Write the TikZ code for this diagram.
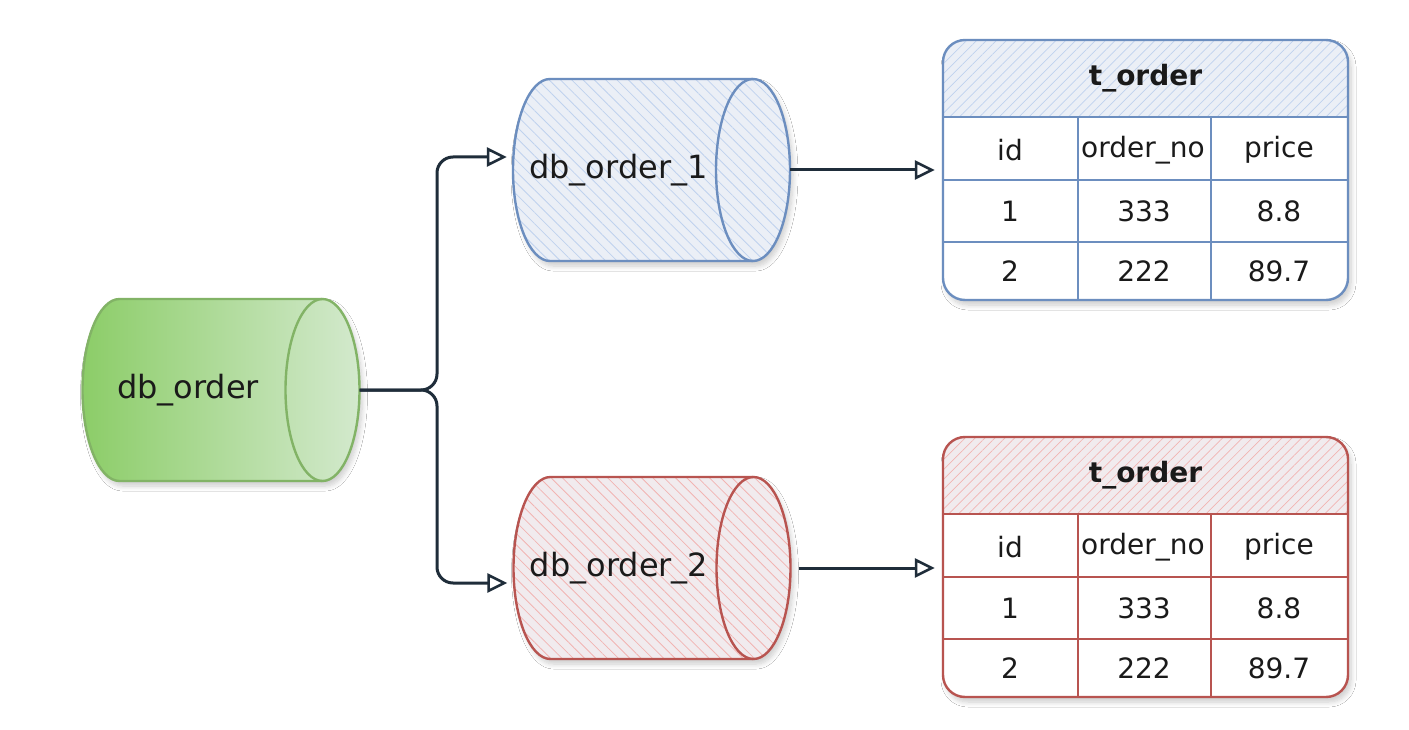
\documentclass[tikz,border=0pt]{standalone}
\usepackage{fontspec}
\setmainfont{DejaVu Sans}
\usetikzlibrary{patterns.meta,arrows.meta,shadows.blur}
\definecolor{bluestroke}{HTML}{6C8EBF}
\definecolor{bluebg}{HTML}{EBEFF6}
\definecolor{bluehatch}{HTML}{BFD2EE}
\definecolor{redstroke}{HTML}{B85450}
\definecolor{redbg}{HTML}{F1EBEE}
\definecolor{redhatch}{HTML}{F2B4B2}
\definecolor{greenstroke}{HTML}{82B366}
\definecolor{greenleft}{HTML}{8CCD68}
\definecolor{greenright}{HTML}{D3E9CD}
\definecolor{conncol}{HTML}{1F2D3A}
\definecolor{txt}{HTML}{1A1A1A}
\tikzset{
  softshadow/.style={blur shadow={shadow xshift=3pt, shadow yshift=-5pt, shadow opacity=20, shadow blur steps=8, shadow blur radius=5pt}},
  cylbox/.style={minimum width=277pt, minimum height=182pt, inner sep=0pt},
  cyltext/.style={text=txt, font=\fontsize{32}{36}\selectfont, inner sep=0pt},
  cylbase/.style={line width=2.4pt, line join=round},
  bluecyl/.style={cylbase, softshadow, draw=bluestroke, preaction={fill=bluebg},
    pattern={Lines[angle=-45,distance=8pt,line width=0.8pt]}, pattern color=bluehatch},
  redcyl/.style={cylbase, softshadow, draw=redstroke, preaction={fill=redbg},
    pattern={Lines[angle=-45,distance=8pt,line width=0.8pt]}, pattern color=redhatch},
  greencyl/.style={cylbase, softshadow, draw=greenstroke, left color=greenleft, right color=greenright},
  conn/.style={draw=conncol, line width=3pt, -{Triangle[open, length=20pt, width=19pt, line width=2.6pt]}},
  tframe/.style={minimum width=405pt, minimum height=260pt, inner sep=0pt},
  cell/.style={text=txt, font=\fontsize{28}{32}\selectfont, inner sep=0pt},
  head/.style={text=txt, font=\bfseries\fontsize{28}{32}\selectfont, inner sep=0pt},
}
% #1 name, #2 cx, #3 cy, #4 style, #5 stroke colour, #6 text
\newcommand{\dbcyl}[6]{%
  \node[cylbox] (#1) at (#2,#3) {};
  \path[#4] (#2-101.5,#3-91) -- (#2+101.5,#3-91)
     arc[start angle=90,end angle=-90,x radius=37pt,y radius=91pt]
     -- (#2-101.5,#3+91)
     arc[start angle=-90,end angle=-270,x radius=37pt,y radius=91pt] -- cycle;
  \draw[#5, line width=2.4pt] (#2+101.5,#3-91) arc[start angle=90,end angle=270,x radius=37pt,y radius=91pt];
  \node[cyltext] (#1-t) at (#2-33,#3) {#6};
}
% #1 name, #2 top y, #3 stroke, #4 bg, #5 hatch
\newcommand{\dbtable}[5]{%
  \node[tframe] (#1) at (1145.5,#2+130) {};
  \fill[white, softshadow, rounded corners=22pt] (943,#2) rectangle (1348,#2+260);
  \begin{scope}
    \clip[rounded corners=22pt] (943,#2) rectangle (1348,#2+260);
    \fill[#4] (943,#2) rectangle (1348,#2+77);
    \fill[pattern={Lines[angle=45,distance=7pt,line width=0.7pt]}, pattern color=#5] (943,#2) rectangle (1348,#2+77);
  \end{scope}
  \draw[#3, line width=2.4pt, rounded corners=22pt] (943,#2) rectangle (1348,#2+260);
  \draw[#3, line width=2.4pt] (943,#2+77) -- (1348,#2+77)
    (943,#2+140) -- (1348,#2+140) (943,#2+202) -- (1348,#2+202)
    (1078,#2+77) -- (1078,#2+260) (1211,#2+77) -- (1211,#2+260);
  \node[head] (#1h) at (1145.5,#2+38) {t\_order};
  \node[cell] (#1a) at (1010,#2+110) {id};
  \begin{scope}
    \clip (1080,#2+80) rectangle (1209,#2+138);
    \node[cell, anchor=west] (#1b) at (1081,#2+110) {order\_no};
  \end{scope}
  \node[cell] (#1c) at (1279,#2+110) {price};
  \node[cell] (#1d) at (1010,#2+171) {1};
  \node[cell] (#1e) at (1144,#2+171) {333};
  \node[cell] (#1f) at (1279,#2+171) {8.8};
  \node[cell] (#1g) at (1010,#2+231) {2};
  \node[cell] (#1i) at (1144,#2+231) {222};
  \node[cell] (#1j) at (1279,#2+231) {89.7};
}
\begin{document}
\begin{tikzpicture}[x=1pt,y=-1pt]
\useasboundingbox[fill=white] (0,0) rectangle (1409,730);
\dbcyl{db}{221}{390}{greencyl}{greenstroke}{db\_order}
\dbcyl{c1}{651.5}{170}{bluecyl}{bluestroke}{db\_order\_1}
\dbcyl{c2}{652}{568}{redcyl}{redstroke}{db\_order\_2}
\dbtable{ta}{40}{bluestroke}{bluebg}{bluehatch}
\dbtable{tb}{437}{redstroke}{redbg}{redhatch}
\coordinate (split) at (437,390);
\draw[conn, rounded corners=16pt, shorten >=6pt] (db.east) -- (split) |- ([yshift=13pt]c1.west);
\draw[conn, rounded corners=16pt, shorten >=6pt] (db.east) -- (split) |- ([yshift=-15pt]c2.west);
\draw[conn, shorten >=8pt] (c1.east) -- (ta.west |- c1.east);
\draw[conn, shorten >=8pt] ([xshift=8pt]c2.east) -- (tb.west |- c2.east);
\end{tikzpicture}
\end{document}
